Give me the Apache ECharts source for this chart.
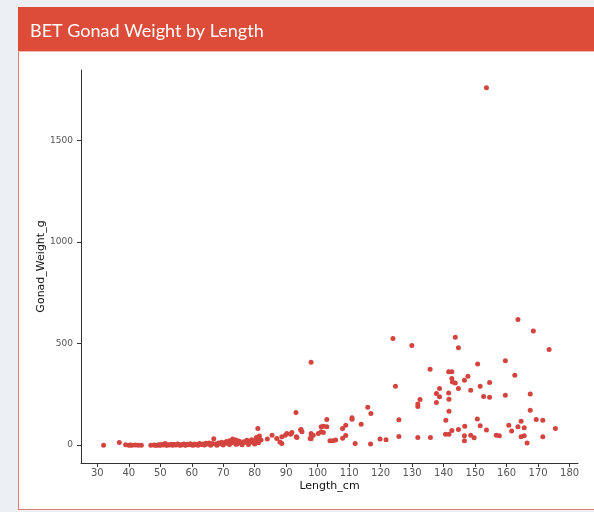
<!DOCTYPE html>
<html>
<head>
<meta charset="utf-8">
<title>BET Gonad Weight by Length</title>
<script src="https://cdn.jsdelivr.net/npm/echarts@6/dist/echarts.min.js"></script>
<style>
  html, body { margin: 0; padding: 0; width: 594px; height: 512px; overflow: hidden; background: #ecf0f5; }
  .box { position: absolute; left: 18px; top: 7px; width: 620px; height: 503px; background: #fff;
         border: 1px solid #e07b70; box-sizing: border-box; }
  .box-header { position: absolute; left: -1px; top: -1px; right: -1px; height: 45px; background: #dd4b39;
                border-bottom: 1px solid #f2b9a8; box-sizing: border-box; }
  #chart { position: absolute; left: 0; top: 0; width: 594px; height: 512px; }
</style>
</head>
<body>
<div class="box"><div class="box-header"></div></div>
<div id="chart"></div>
<script>
// Fork length (cm) and gonad weight (g) for each bigeye tuna sampled
const lengthCm = [
  32, 37, 39, 40, 40.5, 41, 42, 43, 44,
  47, 48, 48.5, 49, 49.5, 50, 50.5, 51, 51.5, 52, 52.5, 53, 53.5, 54, 54.5,
  55, 55.5, 56, 56.5, 57, 57.5, 58, 58.5, 59, 59.5, 60, 60.5, 61, 61.5, 62, 62.5,
  63, 63.5, 64, 64.5, 65, 65.5, 66, 66.5, 67, 67.5, 68, 68.5, 69, 69.5, 70, 70.5,
  71, 71.5, 72, 72.5, 73, 73.5, 74, 74.5, 75, 75.5, 76, 76.5, 77, 77.5, 78, 78.5,
  79, 79.5, 80, 80.5, 81, 81, 81.2, 81.5, 82,
  80, 78, 76, 74, 72, 70, 68, 66, 64, 62, 60, 58, 56, 54, 52, 50,
  84, 85.5, 87, 88, 88.6, 88.6, 89.7, 90.2, 91.4, 91.8, 93.1, 93.2, 93.4, 94.6, 94.7, 95,
  97.6, 97.9, 97.9, 97.9, 98, 98.6, 100.2, 101.1, 101.1, 101.8, 101.9, 102.9, 102.9,
  103.9, 104.8, 105.7, 107.9, 107.9, 108.9, 108.9, 110.9, 110.9, 111.9, 113.8,
  115.9, 116.8, 116.9, 119.8, 121.7, 123.9, 124.7, 125.8, 125.8, 129.9,
  131.8, 131.8, 131.8, 132.5, 135.7, 135.8, 137.7, 137.7, 138.7, 138.7,
  140.6, 140.7, 141.6, 141.6, 141.7, 141.7, 141.7, 142.6, 142.6, 142.6, 142.8,
  143.7, 143.7, 144.7, 144.7, 144.7, 146.6, 146.6, 146.6, 146.7, 147.7,
  148.6, 148.6, 149.7, 150.7, 150.8, 151.6, 151.6, 152.7, 153.6, 153.6,
  154.6, 154.6, 156.7, 157.7, 159.6, 159.6, 160.7, 161.6, 162.6, 163.6, 163.6,
  164.6, 164.6, 165.6, 165.6, 166.5, 167.5, 167.5, 168.5, 169.4, 171.5, 171.5,
  173.5, 175.5
];
const gonadWeightG = [
  0, 13, 2, 0, 1, 0, 1, 0, 0,
  0, 1, 0, 0, 2, 0, 3, 1, 8, 0, 2, 1, 4, 0, 3,
  1, 5, 2, 0, 3, 6, 1, 4, 2, 7, 3, 0, 5, 2, 4, 8,
  3, 6, 2, 9, 5, 11, 3, 8, 31, 6, 4, 10, 7, 14, 5, 12,
  18, 8, 22, 10, 30, 15, 25, 6, 20, 12, 9, 17, 14, 24, 10, 19,
  27, 13, 20, 38, 82, 30, 12, 45, 25,
  5, 3, 2, 4, 3, 1, 0, 0, 1, 0, 1, 0, 1, 2, 1, 1,
  30, 49, 33, 16, 8, 41, 49, 57, 54, 62, 161, 41, 38, 74, 77, 66,
  33, 31, 57, 408, 49, 49, 57, 90, 66, 62, 93, 90, 126,
  21, 21, 25, 34, 82, 48, 98, 128, 135, 8, 103,
  187, 5, 156, 30, 26, 525, 290, 125, 43, 490,
  38, 203, 190, 225, 374, 38, 254, 210, 238, 279,
  53, 123, 361, 257, 53, 167, 226, 361, 328, 72, 311,
  306, 531, 479, 279, 77, 320, 46, 21, 93, 339,
  270, 49, 36, 129, 400, 290, 95, 240, 74, 1759,
  308, 236, 49, 46, 415, 246, 98, 69, 344, 618, 90,
  118, 41, 85, 46, 11, 252, 172, 562, 126, 123, 41,
  471, 82
];

// Tick positions for both axes
const xTicks = [30, 40, 50, 60, 70, 80, 90, 100, 110, 120, 130, 140, 150, 160, 170, 180];
const yTicks = [0, 500, 1000, 1500];

// Axis limits padded by 5% of the data range on each side
const xMinData = Math.min(...lengthCm), xMaxData = Math.max(...lengthCm);
const yMinData = Math.min(...gonadWeightG), yMaxData = Math.max(...gonadWeightG);
const xPad = (xMaxData - xMinData) * 0.05;
const yPad = (yMaxData - yMinData) * 0.05;

const points = lengthCm.map((l, i) => [l, gonadWeightG[i]]);

const axisFont = 'DejaVu Sans';
const plain = v => String(v);
const chart = echarts.init(document.getElementById('chart'), null, { renderer: 'canvas' });
chart.setOption({
  backgroundColor: 'transparent',
  animation: false,
  title: {
    text: 'BET Gonad Weight by Length',
    left: 25,
    top: 17,
    textStyle: { color: '#ffffff', fontFamily: 'Lato', fontSize: 18, fontWeight: 'normal' }
  },
  grid: { left: 81, top: 70, right: 16, bottom: 49, containLabel: false },
  xAxis: {
    type: 'value',
    min: xMinData - xPad,
    max: xMaxData + xPad,
    name: 'Length_cm',
    nameLocation: 'middle',
    nameGap: 18,
    nameMoveOverlap: false,
    nameTextStyle: { color: '#111', fontFamily: axisFont, fontSize: 11 },
    axisLine: { show: true, onZero: false, lineStyle: { color: '#333', width: 1 } },
    axisTick: { show: true, length: 4, customValues: xTicks, lineStyle: { color: '#333' } },
    axisLabel: { customValues: xTicks, formatter: plain, color: '#555', fontFamily: axisFont, fontSize: 10, margin: 5 },
    splitLine: { show: false }
  },
  yAxis: {
    type: 'value',
    min: yMinData - yPad,
    max: yMaxData + yPad,
    name: 'Gonad_Weight_g',
    nameLocation: 'middle',
    nameGap: 34,
    nameMoveOverlap: false,
    nameTextStyle: { color: '#111', fontFamily: axisFont, fontSize: 11 },
    axisLine: { show: true, onZero: false, lineStyle: { color: '#333', width: 1 } },
    axisTick: { show: true, length: 4, customValues: yTicks, lineStyle: { color: '#333' } },
    axisLabel: { customValues: yTicks, formatter: plain, color: '#555', fontFamily: axisFont, fontSize: 9, margin: 8 },
    splitLine: { show: false }
  },
  series: [{
    type: 'scatter',
    data: points,
    symbol: 'circle',
    symbolSize: 5,
    itemStyle: { color: '#d4443f', opacity: 1 }
  }]
});
</script>
</body>
</html>
